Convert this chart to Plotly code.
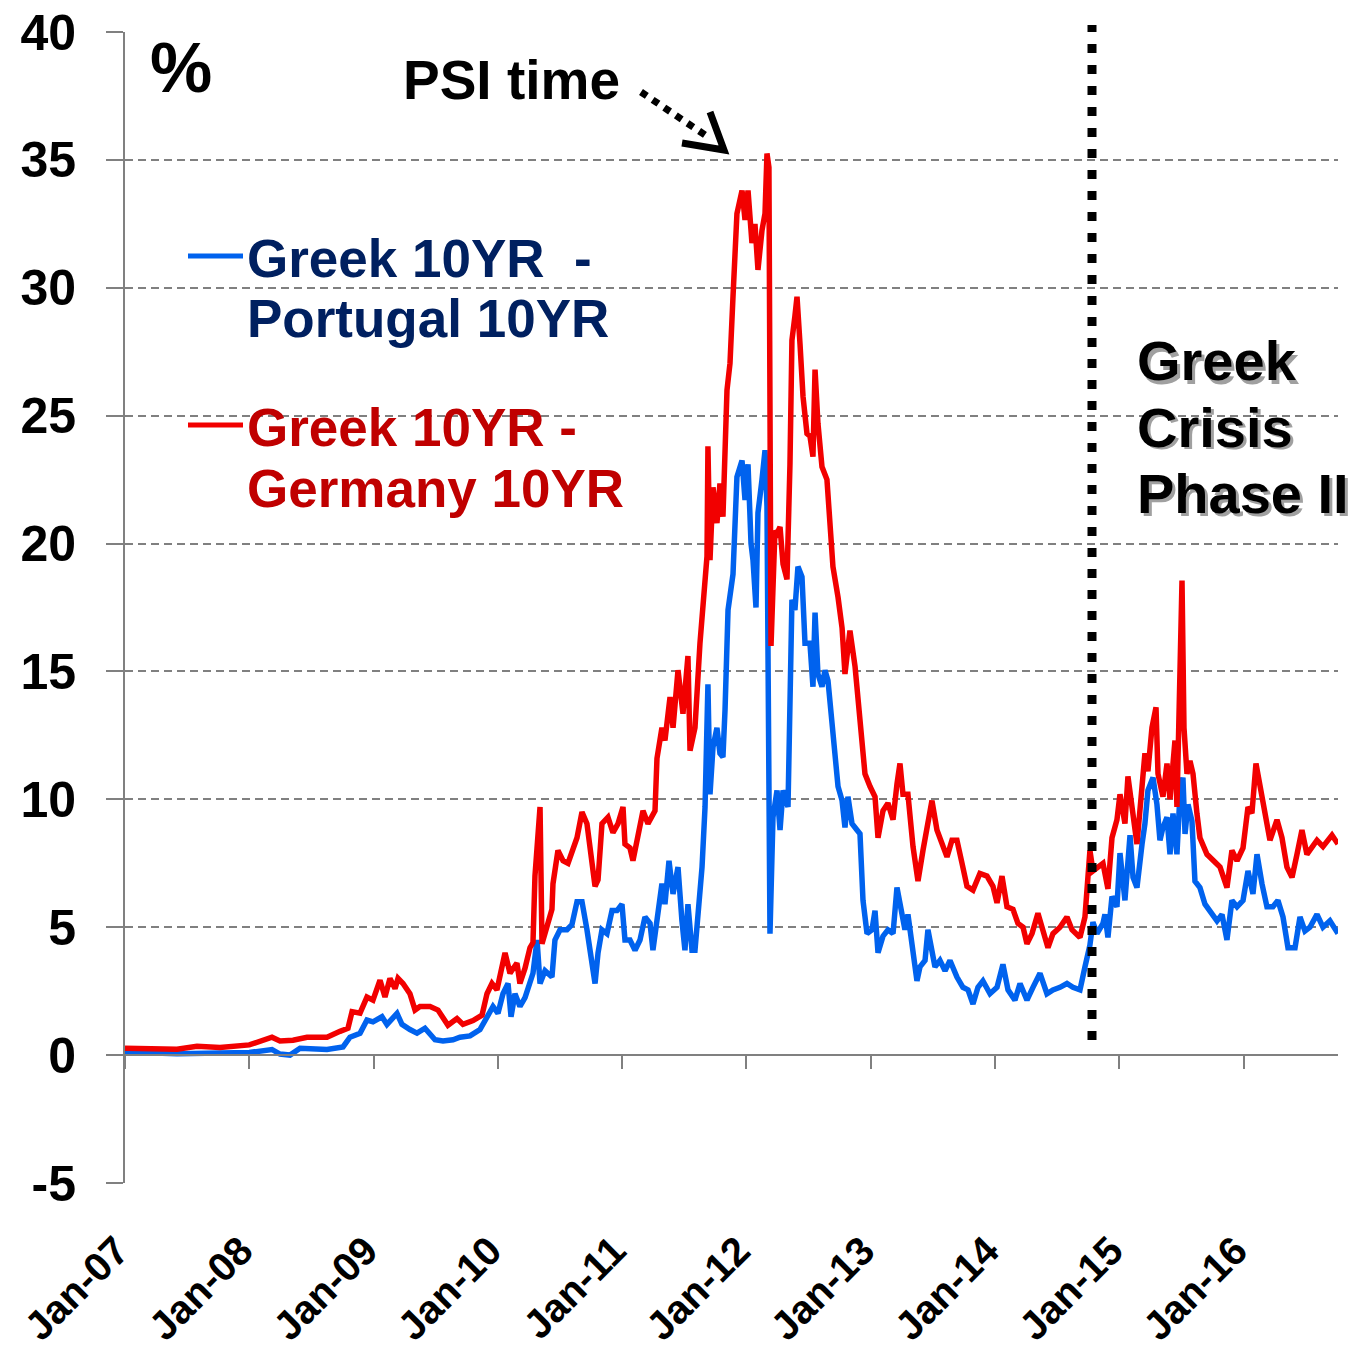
import pandas as pd
import plotly.graph_objects as go

# ---------------- data (x = months since Jan-2007) ----------------
red_months = [0, 2.5, 5.02, 6.95, 9.17, 12, 14.19, 14.96, 16.22, 17.57, 19.5, 20.76, 21.53, 21.92, 22.69,
              23.36, 23.94, 24.62, 25.1, 25.58, 26.07, 26.36, 26.84, 27.51, 28.0, 28.48, 29.45, 30.22, 31.18,
              32.05, 32.63, 33.6, 34.47, 34.95, 35.43, 35.91, 36.69, 37.17, 37.84, 38.13, 38.62, 39.1, 39.39,
              39.58, 40.07, 40.26, 40.74, 41.22, 41.32, 41.8, 42.29, 42.77, 43.64, 44.12, 44.6, 45.09, 45.38,
              45.67, 46.05, 46.63, 47.11, 47.6, 48.08, 48.27, 48.75, 49.04, 49.43, 50.01, 50.49, 51.17, 51.36,
              51.84, 52.13, 52.62, 52.91, 53.39, 53.87, 54.35, 54.55, 55.03, 55.51, 56.19, 56.28, 56.48, 56.77,
              57.15, 57.44, 57.73, 58.12, 58.41, 58.7, 59.08, 59.57, 59.86, 60.15, 60.53, 60.82, 61.11, 61.5,
              61.79, 61.98, 62.17, 62.37, 62.75, 62.95, 63.24, 63.53, 63.91, 64.2, 64.39, 64.68, 64.88, 65.17,
              65.46, 65.84, 66.13, 66.42, 66.62, 66.9, 67.29, 67.77, 68.06, 68.35, 68.84, 69.23, 69.51, 69.99,
              70.48, 70.96, 71.44, 71.93, 72.41, 72.7, 73.18, 73.66, 74.15, 74.53, 74.82, 75.11, 75.59, 76.08,
              76.56, 77.04, 77.43, 77.91, 78.39, 78.88, 79.36, 79.84, 80.32, 80.81, 81.29, 81.87, 82.54, 83.22,
              83.8, 84.19, 84.67, 85.15, 85.73, 86.21, 86.7, 87.08, 87.57, 88.14, 88.63, 89.11, 89.59, 90.27,
              90.94, 91.43, 92.2, 92.68, 93.16, 93.45, 94.42, 94.9, 95.29, 95.77, 96.06, 96.54, 96.83, 97.22,
              97.7, 98.19, 98.47, 98.76, 99.15, 99.54, 99.73, 100.21, 100.6, 100.89, 101.37, 101.56, 101.76,
              102.05, 102.24, 102.53, 102.82, 103.11, 103.49, 103.78, 104.46, 105.04, 105.72, 106.39, 106.87,
              107.36, 107.94, 108.42, 108.8, 109.19, 109.58, 110.06, 110.54, 111.22, 111.7, 112.18, 112.67,
              113.15, 113.63, 114.11, 115.08, 115.66, 116.53, 117.11]
red_values = [0.27, 0.25, 0.23, 0.35, 0.3, 0.4, 0.7, 0.55, 0.58, 0.7, 0.7, 0.93, 1.05, 1.7, 1.64,
              2.27, 2.15, 2.93, 2.27, 3.0, 2.6, 3.0, 2.8, 2.4, 1.76, 1.9, 1.9, 1.76, 1.17,
              1.43, 1.2, 1.35, 1.56, 2.4, 2.8, 2.55, 4.0, 3.2, 3.6, 2.8, 3.4, 4.2, 4.4,
              7.0, 9.7, 4.35, 5.0, 5.7, 6.7, 8.0, 7.6, 7.5, 8.5, 9.5, 9.05, 7.6, 6.6,
              6.85, 9.05, 9.3, 8.7, 9.05, 9.7, 8.25, 8.1, 7.6, 8.5, 9.55, 9.05, 9.55, 11.6,
              12.8, 12.3, 14.0, 12.8, 15.05, 13.35, 15.6, 11.9, 12.8, 16.1, 19.5, 23.8, 19.35, 22.2,
              20.8, 22.35, 21.05, 26.0, 27.05, 29.65, 32.9, 33.8, 32.65, 33.8, 31.75, 32.5, 30.7, 32.25,
              32.9, 35.25, 34.7, 16.0, 20.5, 20.4, 20.65, 19.2, 18.6, 23.1, 27.95, 28.9, 29.65, 27.8,
              25.75, 24.3, 24.2, 23.4, 26.8, 24.7, 23.0, 22.5, 20.3, 19.1, 17.9, 16.7, 14.9, 16.6,
              15.2, 13.35, 11.0, 10.5, 10.1, 8.5, 9.55, 9.85, 9.2, 10.6, 11.4, 10.2, 10.2, 8.15,
              6.8, 8.0, 8.8, 9.95, 8.8, 8.25, 7.75, 8.4, 8.4, 7.5, 6.6, 6.45, 7.1, 7.0,
              6.6, 5.95, 7.0, 5.8, 5.7, 5.15, 5.0, 4.35, 4.75, 5.55, 4.9, 4.2, 4.75, 5.0,
              5.4, 4.9, 4.6, 5.4, 8.0, 7.2, 7.5, 6.5, 8.5, 9.2, 10.2, 9.05, 10.9, 9.85,
              8.25, 10.5, 11.8, 11.1, 12.8, 13.6, 11.0, 10.1, 11.4, 10.0, 12.3, 9.7, 14.5,
              18.55, 12.8, 11.0, 11.5, 11.0, 9.45, 8.5, 7.85, 7.6, 7.35, 6.55, 8.0,
              7.6, 8.1, 9.7, 9.45, 11.4, 10.5, 9.2, 8.4, 9.2, 8.5, 7.35, 6.95,
              7.85, 8.8, 7.85, 8.4, 8.15, 8.6, 8.25]

blue_months = [0, 5.02, 9.17, 12, 14.19, 14.96, 15.93, 16.9, 19.5, 21.05, 21.72, 22.69, 23.36, 23.94,
               24.81, 25.29, 26.26, 26.74, 27.51, 28.19, 28.96, 29.93, 30.7, 31.67, 32.34, 33.31, 34.27,
               34.95, 35.53, 36.01, 36.49, 36.98, 37.27, 37.65, 38.13, 38.62, 39.1, 39.39, 39.78, 40.07,
               40.55, 41.22, 41.51, 42.0, 42.67, 43.15, 43.64, 44.12, 44.6, 45.09, 45.38, 45.67, 46.05,
               46.53, 47.02, 47.5, 47.98, 48.27, 48.75, 49.24, 49.72, 50.2, 50.69, 50.97, 51.46, 51.84,
               52.13, 52.52, 52.91, 53.39, 53.77, 54.06, 54.35, 54.74, 55.03, 55.32, 55.71, 56.0, 56.28,
               56.48, 56.77, 57.15, 57.44, 57.73, 57.93, 58.22, 58.7, 59.08, 59.57, 59.86, 60.15, 60.44,
               60.63, 60.92, 61.11, 61.5, 61.79, 61.98, 62.27, 62.56, 62.95, 63.24, 63.53, 64.01, 64.39,
               64.68, 64.97, 65.36, 65.65, 66.13, 66.42, 66.62, 66.9, 67.29, 67.58, 67.87, 68.26, 68.55,
               68.84, 69.23, 69.51, 69.8, 70.19, 70.67, 70.96, 71.25, 71.64, 72.12, 72.41, 72.7, 73.18,
               73.66, 74.15, 74.53, 75.01, 75.3, 75.59, 76.08, 76.46, 76.75, 77.24, 77.52, 77.91, 78.2,
               78.68, 79.17, 79.65, 80.32, 80.9, 81.39, 81.87, 82.35, 82.83, 83.51, 84.19, 84.76, 85.25,
               85.92, 86.41, 87.08, 87.66, 88.34, 89.01, 89.59, 90.27, 90.94, 91.52, 92.2, 92.68, 93.16,
               93.45, 93.84, 94.42, 94.61, 94.9, 95.29, 95.77, 96.06, 96.54, 97.03, 97.32, 97.7, 98.19,
               98.47, 98.76, 99.25, 99.63, 99.92, 100.21, 100.6, 100.89, 101.18, 101.56, 101.85, 102.14,
               102.34, 102.63, 103.01, 103.3, 103.78, 104.27, 104.75, 105.43, 105.91, 106.39, 106.87,
               107.36, 107.94, 108.42, 108.9, 109.29, 109.77, 110.25, 110.83, 111.31, 111.8, 112.28,
               112.96, 113.44, 113.92, 114.4, 115.08, 115.66, 116.33, 117.11]
blue_values = [0.12, 0.05, 0.08, 0.1, 0.22, 0.04, 0.0, 0.27, 0.22, 0.32, 0.7, 0.85, 1.37, 1.3,
               1.5, 1.2, 1.63, 1.2, 1.0, 0.86, 1.05, 0.6, 0.55, 0.6, 0.7, 0.75, 1.0,
               1.5, 1.9, 1.63, 2.4, 2.8, 1.5, 2.4, 1.9, 2.25, 2.9, 3.2, 4.5, 2.8,
               3.3, 3.05, 4.5, 4.9, 4.9, 5.1, 6.0, 6.0, 4.9, 3.45, 2.8, 4.0, 4.9,
               4.75, 5.65, 5.65, 5.9, 4.5, 4.5, 4.1, 4.5, 5.4, 5.15, 4.1, 5.65, 6.7,
               5.9, 7.6, 6.3, 7.35, 5.25, 4.1, 5.9, 4.1, 4.1, 5.4, 7.35, 9.7, 14.5,
               10.2, 12.05, 12.8, 11.8, 11.65, 13.5, 17.4, 18.8, 22.6, 23.25, 21.7, 23.1, 20.0,
               19.35, 17.5, 21.2, 22.5, 23.65, 21.45, 4.75, 9.3, 10.35, 8.8, 10.35, 9.7, 17.8,
               17.4, 19.1, 18.7, 16.1, 16.1, 14.4, 17.3, 14.9, 14.4, 15.05, 14.65, 12.85, 11.9,
               10.5, 9.95, 8.9, 10.1, 9.05, 8.8, 8.65, 6.05, 4.75, 4.9, 5.65, 4.0, 4.65,
               4.9, 4.75, 6.55, 5.65, 4.9, 5.5, 4.2, 2.9, 3.45, 3.7, 4.9, 4.2, 3.45,
               3.7, 3.3, 3.7, 3.05, 2.65, 2.55, 2.0, 2.65, 2.9, 2.4, 2.65, 3.55, 2.55,
               2.15, 2.8, 2.15, 2.65, 3.2, 2.4, 2.55, 2.65, 2.8, 2.65, 2.55, 3.45, 4.3,
               5.2, 4.75, 5.15, 5.5, 4.6, 6.2, 5.8, 7.9, 6.05, 8.6, 6.95, 6.55, 8.25,
               9.05, 10.35, 10.85, 9.8, 8.4, 8.9, 9.3, 7.85, 9.45, 7.85, 10.2, 10.85,
               8.65, 9.8, 9.15, 6.8, 6.55, 5.9, 5.65, 5.25, 5.5, 4.5, 6.05,
               5.8, 6.05, 7.2, 6.3, 7.85, 6.7, 5.8, 5.8, 6.05, 5.4, 4.2,
               4.2, 5.4, 4.85, 5.0, 5.5, 5.0, 5.25, 4.75]

event_month = 93.36  # start of "Greek Crisis Phase II"
y_ticks = [-5, 0, 5, 10, 15, 20, 25, 30, 35, 40]
y_tick_text = ["-5", "0", "5", "10", "15", "20", "25", "30", "35", "40"]
blue_name = "Greek 10YR  - Portugal 10YR"
red_name = "Greek 10YR - Germany 10YR"

BASE = pd.Timestamp("2007-01-01")
def to_date(months):
    return [BASE + pd.Timedelta(days=m * 30.436875) for m in months]

red_x = to_date(red_months)
blue_x = to_date(blue_months)
x_start = BASE
x_end = red_x[-1]
event_date = to_date([event_month])[0]

# ---------------- styling ----------------
W, H = 1364, 1347
ML, MR, MT, MB = 125, 26, 32, 164
PW, PH = W - ML - MR, H - MT - MB
FONT = "Liberation Sans, Arial, sans-serif"
BLUE, RED = "#0062EE", "#F20000"
GRID = "#808080"

def px(xp):
    return (xp - ML) / PW
def py(yp):
    return (H - MB - yp) / PH

fig = go.Figure()
fig.add_trace(go.Scatter(x=blue_x, y=blue_values, mode="lines", name=blue_name,
                         line=dict(color=BLUE, width=5.5), showlegend=False))
fig.add_trace(go.Scatter(x=red_x, y=red_values, mode="lines", name=red_name,
                         line=dict(color=RED, width=5.5), showlegend=False))
# helper trace so that the label axis is drawn
fig.add_trace(go.Scatter(x=[x_start, x_end], y=[None, None], xaxis="x2", yaxis="y",
                         showlegend=False, hoverinfo="skip", mode="lines"))

ytickfont = dict(family=FONT, size=50, color="black", weight="bold")
xtickfont = dict(family=FONT, size=40, color="black", weight="bold")

fig.update_layout(
    width=W, height=H,
    margin=dict(l=ML, r=MR, t=MT, b=MB, autoexpand=False),
    plot_bgcolor="white", paper_bgcolor="white",
    showlegend=False,
    xaxis=dict(type="date", range=[x_start, x_end], domain=[0, 1],
               anchor="free", position=5 / 45, automargin=False,
               showline=True, linecolor=GRID, linewidth=2,
               ticks="outside", ticklen=13, tickwidth=2, tickcolor=GRID,
               tick0="2007-01-01", dtick="M12",
               showticklabels=False, showgrid=False, zeroline=False),
    xaxis2=dict(type="date", range=[x_start, x_end], overlaying="x", anchor="y", side="bottom",
                automargin=False,
                tick0="2007-01-01", dtick="M12", tickformat="%b-%y", tickangle=-45,
                ticks="outside", ticklen=27, tickcolor="rgba(0,0,0,0)",
                ticklabelshift=-8,
                showline=False, showgrid=False, zeroline=False, tickfont=xtickfont),
    yaxis=dict(range=[-5, 40], domain=[0, 1], tickvals=y_ticks, ticktext=y_tick_text,
               automargin=False,
               showline=True, linecolor=GRID, linewidth=2,
               ticks="outside", ticklen=17, tickwidth=2, tickcolor=GRID,
               ticklabelstandoff=20,
               showgrid=True, gridcolor=GRID, gridwidth=1.5, griddash="8px,5px",
               zeroline=True, zerolinecolor=GRID, zerolinewidth=2,
               tickfont=ytickfont),
)

shapes = []
# vertical dotted event line
shapes.append(dict(type="line", xref="x", yref="paper", x0=event_date, x1=event_date,
                   y0=py(1040), y1=py(25), line=dict(color="black", width=9, dash="9px,12px")))
# PSI dotted arrow
shapes.append(dict(type="line", xref="paper", yref="paper", x0=px(641), y0=py(92), x1=px(708), y1=py(137),
                   line=dict(color="black", width=7, dash="7px,7px")))
shapes.append(dict(type="path", xref="paper", yref="paper",
                   path=f"M {px(682)} {py(143)} L {px(724)} {py(150)} L {px(710)} {py(112)}",
                   line=dict(color="black", width=7)))
# legend line samples
shapes.append(dict(type="line", xref="paper", yref="paper", x0=px(188), x1=px(243), y0=py(256), y1=py(256),
                   line=dict(color=BLUE, width=5)))
shapes.append(dict(type="line", xref="paper", yref="paper", x0=px(188), x1=px(243), y0=py(425), y1=py(425),
                   line=dict(color=RED, width=5)))
fig.update_layout(shapes=shapes)

def ann(text, x, y, size, color="black", xanchor="left"):
    return dict(text=text, xref="paper", yref="paper", x=px(x), y=py(y), xanchor=xanchor,
                yanchor="middle", showarrow=False,
                font=dict(family=FONT, size=size, color=color, weight="bold"))

anns = [
    ann("%", 181, 68, 70, xanchor="center"),
    ann("PSI time", 511, 80, 55, xanchor="center"),
    ann("Greek 10YR\u00a0\u00a0-", 245, 258, 53, color="#002060"),
    ann("Portugal 10YR", 245, 318, 53, color="#002060"),
    ann("Greek 10YR -", 245, 427, 53, color="#C00000"),
    ann("Germany 10YR", 245, 488, 53, color="#C00000"),
]
for i, line in enumerate(["Greek", "Crisis", "Phase II"]):
    yy = 361 + i * 66
    anns.append(ann(line, 1135 + 3, yy + 3, 56, color="#a0a0a0"))
    anns.append(ann(line, 1135, yy, 56, color="black"))
fig.update_layout(annotations=anns)

fig.write_html("out.html", post_script="document.body.style.margin='0';",
               config={"displayModeBar": False})
